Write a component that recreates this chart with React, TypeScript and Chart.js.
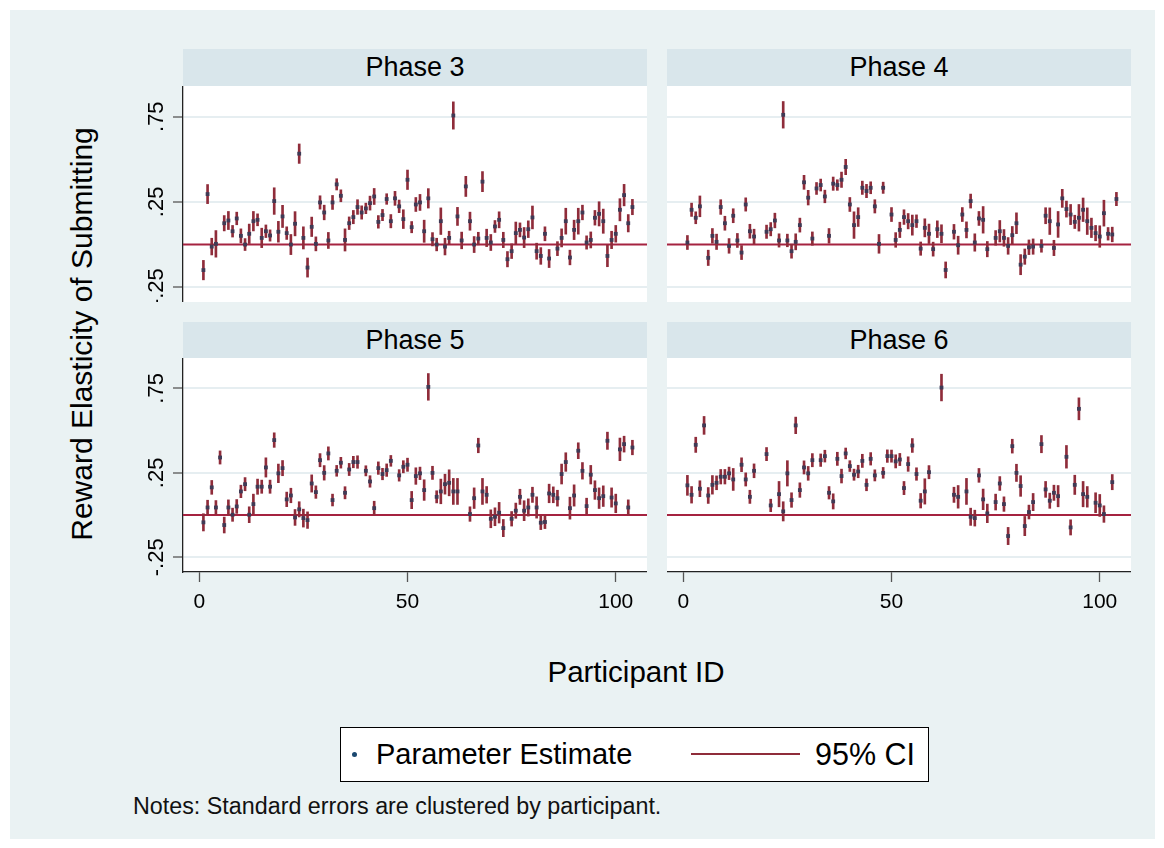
import React, { useEffect, useRef } from "react";
import { Chart, registerables } from "chart.js";

Chart.register(...registerables);

const FONT = "'Liberation Sans', Arial, Helvetica, sans-serif";

const PANEL_TITLES = ["Phase 3", "Phase 4", "Phase 5", "Phase 6"];
const Y_TITLE = "Reward Elasticity of Submitting";
const X_TITLE = "Participant ID";
const LEGEND_LABELS = ["Parameter Estimate", "95% CI"];
const NOTE = "Notes: Standard errors are clustered by participant.";

const Y_TICK_VALUES = [-0.25, 0.25, 0.75];
const Y_TICK_LABELS = ["-.25", ".25", ".75"];
const X_TICK_VALUES = [0, 50, 100];
const X_TICK_LABELS = ["0", "50", "100"];
const X_MIN = -3.9;
const X_MAX = 107.5;
const Y_MIN = -0.337;
const Y_MAX = 0.93;
const REFERENCE_LINE = 0;

// Phase 3
const phase3Ids = [1,2,3,4,6,7,8,9,10,11,12,13,14,15,16,17,18,19,20,21,22,23,24,25,26,27,28,29,30,31,32,33,34,35,36,37,38,39,40,41,42,43,44,45,46,47,48,49,50,51,52,53,54,55,56,57,58,59,60,61,62,63,64,65,66,67,68,69,70,71,72,73,74,75,76,77,78,79,80,81,82,83,84,86,87,88,89,90,91,92,93,94,95,96,97,98,99,100,101,102,103,104];
const phase3Est = [-0.15,0.296,-0.012,0.004,0.125,0.141,0.078,0.153,0.051,0.0,0.063,0.137,0.145,0.039,0.078,0.053,0.255,0.075,0.165,0.067,0.0,0.122,0.533,0.039,-0.135,0.104,0.004,0.247,0.188,0.024,0.247,0.353,0.286,0.027,0.125,0.161,0.22,0.188,0.212,0.243,0.282,0.133,0.173,0.267,0.137,0.271,0.224,0.149,0.38,0.102,0.235,0.247,0.078,0.271,0.031,0.0,0.137,-0.012,0.039,0.757,0.165,0.024,0.341,0.137,0.0,0.035,0.369,0.039,0.012,0.106,0.145,0.027,-0.086,-0.039,0.067,0.086,0.041,0.09,0.159,-0.039,-0.067,0.063,-0.082,-0.024,0.039,0.137,-0.076,0.086,0.137,0.188,0.012,0.027,0.157,0.18,0.137,-0.067,0.027,0.063,0.204,0.29,0.125,0.22];
const phase3Ci = [0.057,0.056,0.049,0.078,0.045,0.053,0.034,0.037,0.041,0.035,0.057,0.057,0.035,0.057,0.037,0.033,0.078,0.061,0.065,0.037,0.059,0.071,0.057,0.065,0.056,0.057,0.041,0.039,0.043,0.047,0.041,0.033,0.035,0.065,0.037,0.039,0.043,0.039,0.031,0.041,0.047,0.037,0.033,0.031,0.039,0.041,0.037,0.055,0.057,0.033,0.041,0.047,0.065,0.057,0.039,0.037,0.078,0.049,0.039,0.08,0.053,0.049,0.059,0.053,0.047,0.037,0.059,0.051,0.047,0.035,0.047,0.045,0.045,0.043,0.065,0.041,0.059,0.049,0.067,0.047,0.049,0.041,0.053,0.041,0.053,0.076,0.043,0.057,0.076,0.043,0.039,0.047,0.043,0.071,0.071,0.063,0.051,0.049,0.065,0.063,0.051,0.045];

// Phase 4
const phase4Ids = [1,2,3,4,6,7,8,9,10,11,12,13,14,15,16,17,20,21,22,23,24,25,26,27,28,29,30,31,32,33,34,35,36,37,38,39,40,41,42,43,44,45,46,47,48,50,51,52,53,54,55,56,57,58,59,60,61,62,63,65,66,67,68,69,70,71,72,73,75,76,77,78,79,80,81,82,83,84,86,87,88,89,90,91,92,93,94,95,96,97,98,99,100,101,102,103,104];
const phase4Est = [0.012,0.204,0.157,0.224,-0.078,0.051,0.016,0.22,0.125,-0.008,0.169,0.024,-0.047,0.235,0.078,0.047,0.075,0.09,0.141,0.024,0.761,0.024,-0.039,0.016,0.114,0.365,0.275,0.035,0.329,0.349,0.282,0.051,0.357,0.349,0.38,0.455,0.235,0.114,0.161,0.333,0.314,0.333,0.224,0.004,0.333,0.176,0.027,0.086,0.161,0.137,0.114,0.137,-0.024,0.098,0.063,-0.027,0.09,0.063,-0.149,0.075,-0.004,0.176,0.086,0.255,0.012,0.153,0.145,-0.027,0.039,0.078,0.039,-0.008,0.055,0.125,-0.118,-0.071,-0.016,-0.012,-0.008,0.169,0.137,-0.02,0.118,0.271,0.208,0.176,0.133,0.157,0.204,0.137,0.098,0.067,0.047,0.184,0.063,0.059,0.267];
const phase4Ci = [0.041,0.039,0.035,0.061,0.045,0.043,0.045,0.043,0.041,0.043,0.041,0.041,0.041,0.039,0.041,0.043,0.039,0.039,0.043,0.039,0.078,0.037,0.041,0.047,0.041,0.041,0.043,0.039,0.035,0.035,0.037,0.043,0.039,0.031,0.045,0.045,0.041,0.078,0.055,0.039,0.039,0.035,0.039,0.055,0.033,0.041,0.043,0.045,0.043,0.045,0.059,0.037,0.039,0.053,0.057,0.041,0.049,0.053,0.047,0.043,0.053,0.041,0.047,0.041,0.051,0.041,0.078,0.045,0.043,0.063,0.049,0.049,0.051,0.061,0.059,0.045,0.043,0.045,0.037,0.047,0.078,0.045,0.076,0.053,0.047,0.059,0.039,0.078,0.069,0.078,0.057,0.045,0.063,0.076,0.037,0.043,0.039];

// Phase 5
const phase5Ids = [1,2,3,4,5,6,7,8,9,10,11,12,13,14,15,16,17,18,19,20,21,22,23,24,25,26,27,28,29,30,31,32,33,34,35,36,37,38,40,41,42,43,44,45,46,48,49,50,51,52,53,54,55,56,57,58,59,60,61,62,65,66,67,68,69,70,71,72,73,75,76,77,78,79,80,81,82,83,84,85,86,87,88,89,90,91,92,93,94,95,96,97,98,99,100,101,102,103,104];
const phase5Est = [-0.043,0.045,0.164,0.045,0.341,-0.059,0.045,0.002,0.051,0.14,0.183,0.002,0.065,0.168,0.168,0.282,0.168,0.444,0.247,0.278,0.093,0.116,-0.014,0.034,-0.018,-0.03,0.187,0.136,0.325,0.25,0.365,0.089,0.262,0.31,0.132,0.27,0.314,0.314,0.262,0.199,0.041,0.278,0.243,0.266,0.321,0.235,0.286,0.298,0.089,0.231,0.247,0.148,0.759,0.25,0.108,0.14,0.183,0.191,0.14,0.14,0.006,0.1,0.412,0.14,0.12,-0.022,-0.01,0.014,-0.077,-0.022,0.026,0.108,0.026,0.045,0.12,0.045,-0.045,-0.041,0.128,0.12,0.1,0.243,0.314,0.041,0.116,0.381,0.262,0.053,0.239,0.148,0.1,0.112,0.44,0.104,0.069,0.389,0.42,0.045,0.4];
const phase5Ci = [0.051,0.043,0.041,0.041,0.039,0.047,0.045,0.039,0.041,0.037,0.039,0.047,0.059,0.045,0.039,0.057,0.039,0.043,0.055,0.045,0.043,0.043,0.047,0.045,0.053,0.049,0.051,0.037,0.039,0.043,0.039,0.035,0.032,0.032,0.036,0.036,0.034,0.037,0.03,0.034,0.041,0.037,0.034,0.037,0.032,0.034,0.036,0.039,0.051,0.049,0.037,0.061,0.079,0.039,0.036,0.073,0.059,0.077,0.077,0.077,0.043,0.061,0.043,0.077,0.049,0.053,0.053,0.061,0.051,0.043,0.045,0.045,0.059,0.051,0.045,0.063,0.041,0.039,0.055,0.047,0.047,0.059,0.055,0.065,0.063,0.047,0.049,0.047,0.055,0.055,0.061,0.061,0.051,0.057,0.055,0.067,0.047,0.045,0.043];

// Phase 6
const phase6Ids = [1,2,3,4,5,6,7,8,9,10,11,12,14,15,16,17,20,21,23,24,25,26,27,28,29,30,31,33,34,35,36,37,38,39,40,41,42,43,44,45,46,48,49,50,51,52,53,54,55,56,57,58,59,62,65,66,68,69,70,71,72,73,75,76,77,78,79,80,81,82,83,84,86,87,88,89,90,92,93,94,95,96,97,99,100,101,103];
const phase6Est = [0.176,0.12,0.416,0.156,0.531,0.116,0.179,0.191,0.227,0.227,0.247,0.211,0.298,0.211,0.108,0.262,0.361,0.057,0.124,0.022,0.247,0.089,0.531,0.148,0.282,0.247,0.325,0.325,0.349,0.132,0.081,0.333,0.231,0.365,0.29,0.239,0.258,0.321,0.179,0.333,0.235,0.25,0.349,0.349,0.318,0.329,0.16,0.302,0.412,0.243,0.085,0.14,0.254,0.755,0.12,0.108,0.14,-0.01,-0.018,0.235,0.093,0.01,0.077,0.187,0.065,-0.124,0.408,0.25,0.172,-0.065,0.018,0.077,0.42,0.152,0.085,0.132,0.112,0.345,-0.073,0.179,0.629,0.124,0.108,0.073,0.057,0.006,0.195];
const phase6Ci = [0.059,0.049,0.045,0.047,0.053,0.047,0.055,0.041,0.043,0.043,0.037,0.065,0.041,0.039,0.039,0.041,0.039,0.037,0.075,0.057,0.075,0.043,0.049,0.043,0.039,0.041,0.039,0.037,0.035,0.037,0.045,0.039,0.041,0.032,0.032,0.033,0.037,0.039,0.035,0.037,0.033,0.032,0.037,0.036,0.039,0.036,0.039,0.043,0.041,0.037,0.043,0.075,0.039,0.079,0.045,0.067,0.077,0.051,0.047,0.041,0.061,0.055,0.047,0.041,0.043,0.051,0.041,0.051,0.061,0.057,0.041,0.051,0.051,0.047,0.045,0.045,0.063,0.067,0.045,0.057,0.065,0.075,0.061,0.059,0.065,0.049,0.045];

const BG = "#EAF2F3";
const STRIP_BG = "#D9E6EB";
const GRID_COLOR = "#E6EEF1";
const CI_COLOR = "#8F2C3A";
const ZERO_COLOR = "#A52340";
const MARKER_COLOR = "#3F3A55";
const AXIS_COLOR = "#222222";
const TICK_COLOR = "#555555";

const yLabelPlugin = {
  id: "rotatedYLabels",
  afterDraw(chart: any) {
    const sc = chart.scales.y;
    const ctx = chart.ctx;
    ctx.save();
    ctx.font = `22px ${FONT}`;
    ctx.fillStyle = "#000";
    ctx.textAlign = "center";
    ctx.textBaseline = "alphabetic";
    Y_TICK_VALUES.forEach((v, i) => {
      const py = sc.getPixelForValue(v);
      ctx.save();
      ctx.translate(sc.right - 20, py);
      ctx.rotate(-Math.PI / 2);
      ctx.fillText(Y_TICK_LABELS[i], 0, 0);
      ctx.restore();
    });
    ctx.restore();
  },
};

type PanelProps = {
  left: number;
  top: number;
  width: number;
  height: number;
  showY: boolean;
  showX: boolean;
  ids: number[];
  est: number[];
  ci: number[];
};

const Y_AXIS_SPACE = 60;
const X_AXIS_SPACE = 50;

function Panel({ left, top, width, height, showY, showX, ids, est, ci }: PanelProps) {
  const ref = useRef<HTMLCanvasElement | null>(null);
  const cw = width + (showY ? Y_AXIS_SPACE : 0);
  const ch = height + (showX ? X_AXIS_SPACE : 0);
  useEffect(() => {
    if (!ref.current) return;
    const chart = new Chart(ref.current, {
      type: "bar",
      data: {
        datasets: [
          {
            type: "line",
            data: [
              { x: X_MIN, y: REFERENCE_LINE },
              { x: X_MAX, y: REFERENCE_LINE },
            ],
            borderColor: ZERO_COLOR,
            borderWidth: 2,
            pointRadius: 0,
            order: 3,
          } as any,
          {
            type: "bar",
            data: ids.map((id, i) => ({ x: id, y: [est[i] - ci[i], est[i] + ci[i]] })),
            backgroundColor: CI_COLOR,
            borderWidth: 0,
            barThickness: 2,
            grouped: false,
            order: 2,
          } as any,
          {
            type: "scatter",
            data: ids.map((id, i) => ({ x: id, y: est[i] })),
            pointStyle: "rect",
            pointRadius: 2.7,
            pointBackgroundColor: MARKER_COLOR,
            pointBorderWidth: 0,
            order: 1,
          } as any,
        ],
      },
      options: {
        animation: false,
        responsive: false,
        maintainAspectRatio: false,
        events: [],
        layout: { padding: 0, autoPadding: false },
        plugins: { legend: { display: false }, tooltip: { enabled: false } },
        scales: {
          x: {
            type: "linear",
            min: X_MIN,
            max: X_MAX,
            offset: false,
            display: showX,
            position: "bottom",
            afterBuildTicks: (s: any) => {
              s.ticks = X_TICK_VALUES.map((v) => ({ value: v }));
            },
            afterFit: (s: any) => {
              s.height = showX ? X_AXIS_SPACE : 0;
            },
            grid: {
              display: true,
              drawOnChartArea: false,
              drawTicks: true,
              tickLength: 10,
              tickColor: TICK_COLOR,
              tickWidth: 1.3,
              offset: false,
            },
            border: { display: true, color: AXIS_COLOR, width: 1.3 },
            ticks: {
              font: { family: FONT, size: 21 },
              color: "#000",
              padding: 8,
              maxRotation: 0,
              minRotation: 0,
              autoSkip: false,
              callback: (v: any) => {
                const k = X_TICK_VALUES.indexOf(Number(v));
                return k >= 0 ? X_TICK_LABELS[k] : "";
              },
            },
          },
          y: {
            type: "linear",
            min: Y_MIN,
            max: Y_MAX,
            position: "left",
            afterBuildTicks: (s: any) => {
              s.ticks = Y_TICK_VALUES.map((v) => ({ value: v }));
            },
            afterFit: (s: any) => {
              s.width = showY ? Y_AXIS_SPACE : 0;
            },
            grid: {
              color: GRID_COLOR,
              lineWidth: 2,
              drawTicks: showY,
              tickLength: 10,
              tickColor: TICK_COLOR,
              tickWidth: 1.3,
            },
            border: { display: showY, color: AXIS_COLOR, width: 1.3 },
            ticks: { display: false },
          },
        },
      } as any,
      plugins: showY ? [yLabelPlugin] : [],
    });
    return () => chart.destroy();
  }, []);
  return (
    <canvas
      ref={ref}
      width={cw}
      height={ch}
      style={{
        position: "absolute",
        left: left - (showY ? Y_AXIS_SPACE : 0),
        top,
        width: cw,
        height: ch,
        background: "transparent",
      }}
    />
  );
}

function Strip({ left, top, width, height, title }: { left: number; top: number; width: number; height: number; title: string }) {
  return (
    <div
      style={{
        position: "absolute",
        left,
        top,
        width,
        height,
        background: STRIP_BG,
        display: "flex",
        alignItems: "center",
        justifyContent: "center",
        fontFamily: FONT,
        fontSize: 27,
        color: "#000",
      }}
    >
      {title}
    </div>
  );
}

export default function App() {
  const L1 = 183;
  const L2 = 667;
  const W = 464;
  const T1 = 86;
  const H1 = 216;
  const T2 = 358;
  const H2 = 214;
  const panels = [
    { left: L1, top: T1, height: H1, showY: true, showX: false, ids: phase3Ids, est: phase3Est, ci: phase3Ci, stripTop: 49, stripH: 37 },
    { left: L2, top: T1, height: H1, showY: false, showX: false, ids: phase4Ids, est: phase4Est, ci: phase4Ci, stripTop: 49, stripH: 37 },
    { left: L1, top: T2, height: H2, showY: true, showX: true, ids: phase5Ids, est: phase5Est, ci: phase5Ci, stripTop: 322, stripH: 36 },
    { left: L2, top: T2, height: H2, showY: false, showX: true, ids: phase6Ids, est: phase6Est, ci: phase6Ci, stripTop: 322, stripH: 36 },
  ];
  return (
    <div style={{ position: "absolute", left: 0, top: 0, width: 1164, height: 848, background: "#fff", overflow: "hidden" }}>
      <div style={{ position: "absolute", left: 10, top: 10, width: 1145, height: 829, background: BG }} />
      {panels.map((p, i) => (
        <React.Fragment key={i}>
          <Strip left={p.left} top={p.stripTop} width={W} height={p.stripH} title={PANEL_TITLES[i]} />
          <div style={{ position: "absolute", left: p.left, top: p.top, width: W, height: p.height, background: "#fff" }} />
          <Panel left={p.left} top={p.top} width={W} height={p.height} showY={p.showY} showX={p.showX} ids={p.ids} est={p.est} ci={p.ci} />
        </React.Fragment>
      ))}
      <div
        style={{
          position: "absolute",
          left: 82,
          top: 334,
          transform: "translate(-50%, -50%) rotate(-90deg)",
          whiteSpace: "nowrap",
          fontFamily: FONT,
          fontSize: 30,
          color: "#000",
        }}
      >
        {Y_TITLE}
      </div>
      <div
        style={{
          position: "absolute",
          left: 636,
          top: 672,
          transform: "translate(-50%, -50%)",
          whiteSpace: "nowrap",
          fontFamily: FONT,
          fontSize: 29.5,
          color: "#000",
        }}
      >
        {X_TITLE}
      </div>
      <div
        style={{
          position: "absolute",
          left: 340,
          top: 727,
          width: 589,
          height: 55,
          boxSizing: "border-box",
          border: "1.5px solid #000",
          background: "#fff",
          fontFamily: FONT,
          fontSize: 29,
          color: "#000",
        }}
      >
        <div style={{ position: "absolute", left: 11, top: 24, width: 5, height: 5, borderRadius: "50%", background: "#1A476F" }} />
        <div style={{ position: "absolute", left: 35, top: 0, height: 52, display: "flex", alignItems: "center", whiteSpace: "nowrap" }}>
          {LEGEND_LABELS[0]}
        </div>
        <div style={{ position: "absolute", left: 350, top: 25, width: 109, height: 2, background: CI_COLOR }} />
        <div style={{ position: "absolute", left: 474, top: 0, height: 52, display: "flex", alignItems: "center", whiteSpace: "nowrap", fontSize: 30.5 }}>
          {LEGEND_LABELS[1]}
        </div>
      </div>
      <div
        style={{
          position: "absolute",
          left: 133,
          top: 793,
          whiteSpace: "nowrap",
          fontFamily: FONT,
          fontSize: 23.3,
          color: "#111",
        }}
      >
        {NOTE}
      </div>
    </div>
  );
}
